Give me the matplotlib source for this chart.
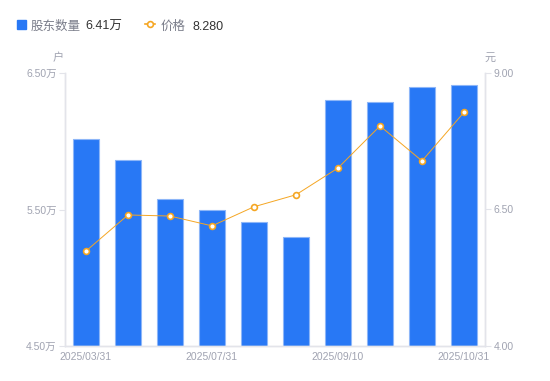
import matplotlib
matplotlib.use('Agg')
import matplotlib.pyplot as plt
from matplotlib.lines import Line2D
from matplotlib.patches import Rectangle

plt.rcParams['font.family'] = ['Liberation Sans', 'Noto Sans CJK SC', 'DejaVu Sans']

# 数据
dates = ['2025/03/31', '2025/04/30', '2025/06/30', '2025/07/31', '2025/08/15',
         '2025/08/31', '2025/09/10', '2025/09/30', '2025/10/20', '2025/10/31']
holders = [6.02, 5.86, 5.58, 5.50, 5.41, 5.30, 6.30, 6.29, 6.40, 6.41]  # 万户
price = [5.74, 6.40, 6.38, 6.20, 6.55, 6.77, 7.26, 8.03, 7.39, 8.28]   # 元
left_ticks = [4.5, 5.5, 6.5]
right_ticks = [4.0, 6.5, 9.0]

blue = '#2878F5'
orange = '#F5A623'
gray = '#A0A3B1'
axis_gray = '#E3E4EA'

fig = plt.figure(figsize=(5.5, 3.81), dpi=100)
ax = fig.add_axes([65 / 550, 35 / 381, 420 / 550, 273 / 381])
ax2 = ax.twinx()

x = list(range(len(dates)))
ax.bar(x, holders, width=0.6, color=blue, edgecolor='#8DB6F8', linewidth=0.8, zorder=2)
ax.set_ylim(4.5, 6.5)
ax.set_xlim(-0.5, len(dates) - 0.5)
ax.set_yticks(left_ticks)
ax.set_yticklabels(['%.2f万' % v for v in left_ticks])
ax.set_xticks(x[::3])
ax.set_xticklabels(dates[::3])

ax2.plot(x, price, color=orange, linewidth=0.7, marker='o', markersize=4.2,
         markerfacecolor='white', markeredgecolor=orange, markeredgewidth=1.2, zorder=3)
ax2.set_ylim(4.0, 9.0)
ax2.set_yticks(right_ticks)
ax2.set_yticklabels(['%.2f' % v for v in right_ticks])

for a in (ax, ax2):
    a.spines['top'].set_visible(False)
    for s in ('left', 'right', 'bottom'):
        a.spines[s].set_color(axis_gray)
        a.spines[s].set_linewidth(1)
    a.tick_params(axis='y', colors=axis_gray, labelcolor=gray, labelsize=7.5, length=4, width=0.8, pad=2)
ax.tick_params(axis='x', length=0, labelcolor=gray, labelsize=7.5, pad=4)

# 单位
fig.text(58 / 550, 1 - 58 / 381, '户', fontsize=8, color=gray, ha='center', va='center')
fig.text(490 / 550, 1 - 58 / 381, '元', fontsize=8, color=gray, ha='center', va='center')

# 图例
ly = 1 - 24 / 381
ty = 1 - 26.5 / 381
fig.add_artist(Rectangle((17 / 550, 1 - 28.5 / 381), 9 / 550, 9 / 381, color=blue,
                         transform=fig.transFigure))
fig.text(31 / 550, ty, '股东数量', fontsize=9, color='#7A7D8A', va='center')
fig.text(85 / 550, ty, '6.41万', fontsize=9, color='#333333', va='center')
fig.add_artist(Line2D([145 / 550, 155 / 550], [ly, ly], color=orange, linewidth=1.2,
                      transform=fig.transFigure))
fig.add_artist(Line2D([150 / 550], [ly], color=orange, marker='o', markersize=4.2,
                      markerfacecolor='white', markeredgewidth=1.2, transform=fig.transFigure))
fig.text(161 / 550, ty, '价格', fontsize=9, color='#7A7D8A', va='center')
fig.text(192 / 550, ty, '8.280', fontsize=9, color='#333333', va='center')

fig.savefig('out.png', dpi=100)
